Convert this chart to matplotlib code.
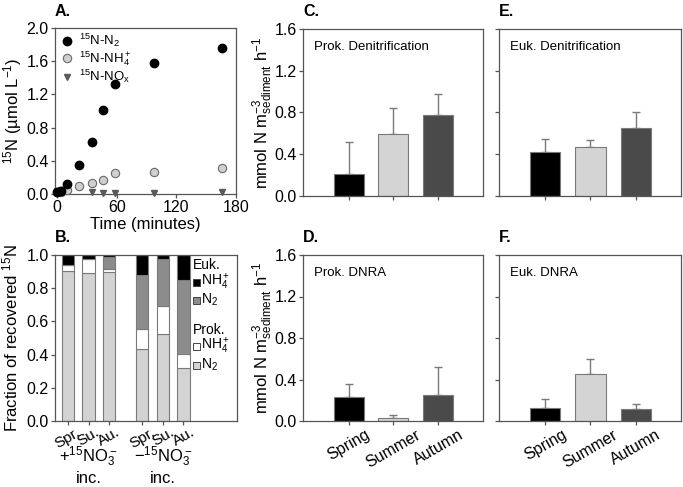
import matplotlib
matplotlib.use("Agg")
import matplotlib.pyplot as plt
from matplotlib.patches import Rectangle
import numpy as np

plt.rcParams['font.family'] = ['Liberation Sans', 'DejaVu Sans']
plt.rcParams['mathtext.fontset'] = 'custom'
plt.rcParams['mathtext.rm'] = 'Liberation Sans'
plt.rcParams['mathtext.it'] = 'Liberation Sans:italic'
plt.rcParams['mathtext.bf'] = 'Liberation Sans:bold'

# ---------------- Data ----------------
time_min = [0, 4, 10, 22, 35, 46, 58, 98, 166]
n2_15 = [0.02, 0.04, 0.12, 0.35, 0.63, 1.01, 1.32, 1.58, 1.76]
nh4_15 = [0.02, 0.03, 0.05, 0.10, 0.13, 0.17, 0.25, 0.26, 0.31]
nox_15 = [0.04, 0.05, 0.07, 0.09, 0.02, 0.01, 0.01, 0.01, 0.02]

frac_labels = ["Spr.", "Su.", "Au.", "Spr.", "Su.", "Au."]
frac_pos = [0, 1, 2, 3.6, 4.6, 5.6]
prok_n2 = [0.905, 0.89, 0.895, 0.435, 0.525, 0.32]
prok_nh4 = [0.035, 0.085, 0.02, 0.12, 0.17, 0.085]
euk_n2 = [0.0, 0.0, 0.075, 0.325, 0.28, 0.445]
euk_nh4 = [0.06, 0.025, 0.01, 0.12, 0.025, 0.15]

seasons = ["Spring", "Summer", "Autumn"]
prok_denit = [0.21, 0.59, 0.78]
prok_denit_err = [0.31, 0.255, 0.20]
euk_denit = [0.42, 0.47, 0.65]
euk_denit_err = [0.13, 0.07, 0.15]
prok_dnra = [0.23, 0.026, 0.25]
prok_dnra_err = [0.13, 0.032, 0.27]
euk_dnra = [0.13, 0.45, 0.115]
euk_dnra_err = [0.08, 0.15, 0.05]

# ---------------- Figure ----------------
W, H = 683, 487
fig = plt.figure(figsize=(W / 100, H / 100), dpi=100)

def add_ax(x0, y0, x1, y1):
    return fig.add_axes([x0 / W, 1 - y1 / H, (x1 - x0) / W, (y1 - y0) / H])

SP = '#555555'
EDGE = '#7a7a7a'
TFS = 11.5

def style(ax):
    for s in ax.spines.values():
        s.set_color(SP)
        s.set_linewidth(0.9)
    ax.tick_params(direction='out', color=SP, length=3, width=0.9, labelsize=TFS, pad=1.5)

# Panel A
axA = add_ax(55, 28, 236, 194)
style(axA)
axA.plot(time_min, n2_15, 'o', color='black', ms=6, label=r"$^{15}$N-N$_2$", clip_on=False, zorder=4)
axA.plot(time_min, nh4_15, 'o', mfc='#cfcfcf', mec='#6a6a6a', mew=0.8, ms=6,
         label=r"$^{15}$N-NH$_4^+$", clip_on=False, zorder=3)
axA.plot(time_min, nox_15, 'v', color='#5a5a5a', ms=5, label=r"$^{15}$N-NO$_\mathrm{x}$", clip_on=False, zorder=2)
axA.set_xlim(-2, 180)
axA.set_ylim(0, 2.0)
axA.set_xticks([0, 60, 120, 180])
axA.set_yticks([0, 0.4, 0.8, 1.2, 1.6, 2.0])
axA.set_yticklabels([f"{v:.1f}" for v in [0, 0.4, 0.8, 1.2, 1.6, 2.0]])
axA.set_xlabel("Time (minutes)", fontsize=12, labelpad=1)
axA.set_ylabel(r"$^{15}$N (µmol L$^{-1}$)", fontsize=12)
axA.yaxis.set_label_coords(-0.172, 0.5)
axA.legend(loc='upper left', frameon=False, fontsize=9.5, handletextpad=0.3,
           borderaxespad=0.0, labelspacing=0.0, handlelength=1.2, borderpad=0.3)

# Panel B
axB = add_ax(55, 255, 237, 421)
style(axB)
bw = 0.6
b1 = np.array(prok_n2)
b2 = b1 + np.array(prok_nh4)
b3 = b2 + np.array(euk_n2)
axB.bar(frac_pos, prok_n2, bw, color='#d3d3d3', edgecolor=EDGE, lw=0.8)
axB.bar(frac_pos, prok_nh4, bw, bottom=b1, color='white', edgecolor=EDGE, lw=0.8)
axB.bar(frac_pos, euk_n2, bw, bottom=b2, color='#8c8c8c', edgecolor=EDGE, lw=0.8)
axB.bar(frac_pos, euk_nh4, bw, bottom=b3, color='black', edgecolor=EDGE, lw=0.8)
axB.set_xlim(-0.63, 8.2)
axB.set_ylim(0, 1.0)
axB.set_yticks([0, 0.2, 0.4, 0.6, 0.8, 1.0])
axB.set_yticklabels([f"{v:.1f}" for v in [0, 0.2, 0.4, 0.6, 0.8, 1.0]])
axB.set_xticks(frac_pos)
axB.set_xticklabels(frac_labels, rotation=30, fontsize=11)
axB.tick_params(axis='x', pad=0)
axB.set_ylabel(r"Fraction of recovered $^{15}$N", fontsize=12)
axB.yaxis.set_label_coords(-0.19, 0.5)
tr = axB.get_xaxis_transform()
axB.text(1, -0.215, r"+$^{15}$NO$_3^-$", transform=tr, ha='center', va='center', fontsize=12)
axB.text(1, -0.345, "inc.", transform=tr, ha='center', va='center', fontsize=12)
axB.text(4.6, -0.215, "\u2212" + r"$^{15}$NO$_3^-$", transform=tr, ha='center', va='center', fontsize=12)
axB.text(4.6, -0.345, "inc.", transform=tr, ha='center', va='center', fontsize=12)

# legend of B (axes coords)
def bx(px):
    return (px - 55) / 182
def by(py):
    return (421 - py) / 166
lfs = 10
axB.text(bx(193), by(265), "Euk.", transform=axB.transAxes, fontsize=lfs, va='center', ha='left')
axB.text(bx(193), by(330), "Prok.", transform=axB.transAxes, fontsize=lfs, va='center', ha='left')
items = [(282, 'black', r"NH$_4^+$"), (300, '#8c8c8c', r"N$_2$"),
         (346, 'white', r"NH$_4^+$"), (365, '#d3d3d3', r"N$_2$")]
for py, col, lab in items:
    axB.add_patch(Rectangle((bx(193), by(py + 3.5)), 7 / 182, 7 / 166, transform=axB.transAxes,
                            facecolor=col, edgecolor='#444444', lw=0.7, clip_on=False))
    axB.text(bx(201), by(py), lab, transform=axB.transAxes, fontsize=lfs, va='center', ha='left')

# Bar panels
bar_cols = ['black', '#d4d4d4', '#4a4a4a']
ylab = r"mmol N m$^{-3}_{\mathrm{sediment}}$ h$^{-1}$"

def bar_panel(rect, vals, errs, text, ylabels, xlabels):
    ax = add_ax(*rect)
    style(ax)
    x = np.arange(len(vals))
    ax.bar(x, vals, 0.67, color=bar_cols, edgecolor=EDGE, lw=0.8, zorder=2)
    ax.errorbar(x, vals, yerr=[np.zeros(len(vals)), errs], fmt='none', ecolor='#7a7a7a',
                elinewidth=1.0, capsize=3, capthick=1.0, zorder=1)
    ax.set_xlim(-1.02, 3.0)
    ax.set_ylim(0, 1.6)
    ax.set_yticks([0, 0.4, 0.8, 1.2, 1.6])
    if ylabels:
        ax.set_yticklabels([f"{v:.1f}" for v in [0, 0.4, 0.8, 1.2, 1.6]])
        ax.set_ylabel(ylab, fontsize=12)
        ax.yaxis.set_label_coords(-0.158, 0.5)
    else:
        ax.set_yticklabels([])
    ax.set_xticks(x)
    if xlabels:
        ax.set_xticklabels(seasons, rotation=30, fontsize=TFS)
    else:
        ax.set_xticklabels([])
    ax.text(0.06, 0.93, text, transform=ax.transAxes, fontsize=9.5, va='top', ha='left')
    return ax

bar_panel((303, 29, 483, 196), prok_denit, prok_denit_err, "Prok. Denitrification", True, False)
bar_panel((303, 255, 483, 421), prok_dnra, prok_dnra_err, "Prok. DNRA", True, True)
bar_panel((499, 29, 681, 196), euk_denit, euk_denit_err, "Euk. Denitrification", False, False)
bar_panel((499, 255, 681, 421), euk_dnra, euk_dnra_err, "Euk. DNRA", False, True)

# Panel letters
for lab, px, py in [("A.", 55, 12), ("B.", 55, 238), ("C.", 303, 12),
                    ("D.", 303, 238), ("E.", 499, 12), ("F.", 499, 238)]:
    fig.text(px / W, 1 - py / H, lab, fontsize=11.5, fontweight='bold', ha='left', va='center')

fig.savefig("out.png", dpi=100)
